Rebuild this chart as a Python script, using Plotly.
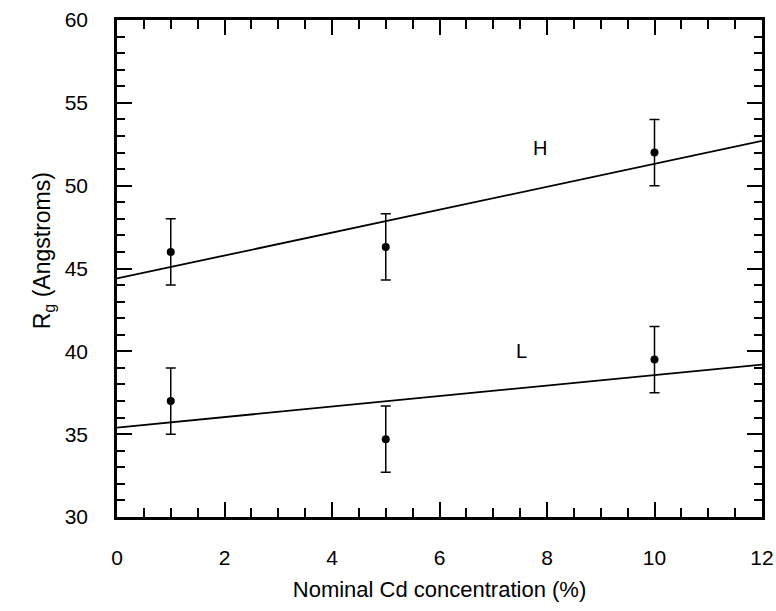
import plotly.graph_objects as go

conc = [1, 5, 10]
rg_H = [46.0, 46.3, 52.0]
rg_L = [37.0, 34.7, 39.5]
err_H = [2.0, 2.0, 2.0]
err_L = [2.0, 2.0, 2.0]
fit_x = [0, 12]
fit_H = [44.4, 52.7]
fit_L = [35.4, 39.2]

font_family = "Liberation Sans, Arial, sans-serif"
fig = go.Figure()
for y, e in [(rg_H, err_H), (rg_L, err_L)]:
    fig.add_trace(go.Scatter(
        x=conc, y=y, mode="markers",
        marker=dict(color="black", size=8),
        error_y=dict(type="data", array=e, visible=True, color="black", thickness=1.5, width=5),
        showlegend=False, cliponaxis=False))
for y in [fit_H, fit_L]:
    fig.add_trace(go.Scatter(x=fit_x, y=y, mode="lines",
                             line=dict(color="black", width=1.8), showlegend=False))

fig.add_annotation(x=7.87, y=52.3, text="H", showarrow=False,
                   font=dict(size=20, color="black", family=font_family))
fig.add_annotation(x=7.53, y=40.0, text="L", showarrow=False,
                   font=dict(size=20, color="black", family=font_family))
fig.add_annotation(x=-0.14, y=0.535, xref="paper", yref="paper", textangle=-90,
                   text="R<sub>g</sub> (Angstroms)", showarrow=False,
                   font=dict(size=23, color="black", family=font_family))

axis_common = dict(showgrid=False, zeroline=False, showline=True, linecolor="black",
                   linewidth=2.5, mirror="allticks", ticks="inside", tickcolor="black",
                   tickwidth=1.5, automargin=False,
                   tickfont=dict(size=21, color="black", family=font_family))
fig.update_xaxes(range=[0, 12], dtick=2, ticklen=15,
                 minor=dict(dtick=0.5, ticklen=9, ticks="inside", tickcolor="black", tickwidth=1.5),
                 ticklabelstandoff=20,
                 title=dict(text="Nominal Cd concentration (%)", standoff=14,
                            font=dict(size=22, color="black", family=font_family)),
                 **axis_common)
fig.update_yaxes(range=[30, 60], dtick=5, ticklen=15,
                 minor=dict(dtick=1, ticklen=8, ticks="inside", tickcolor="black", tickwidth=1.5),
                 ticklabelstandoff=22,
                 **axis_common)
fig.update_layout(width=776, height=611, margin=dict(l=117, r=14, t=20, b=94),
                  plot_bgcolor="white", paper_bgcolor="white")
fig.write_html("out.html")
